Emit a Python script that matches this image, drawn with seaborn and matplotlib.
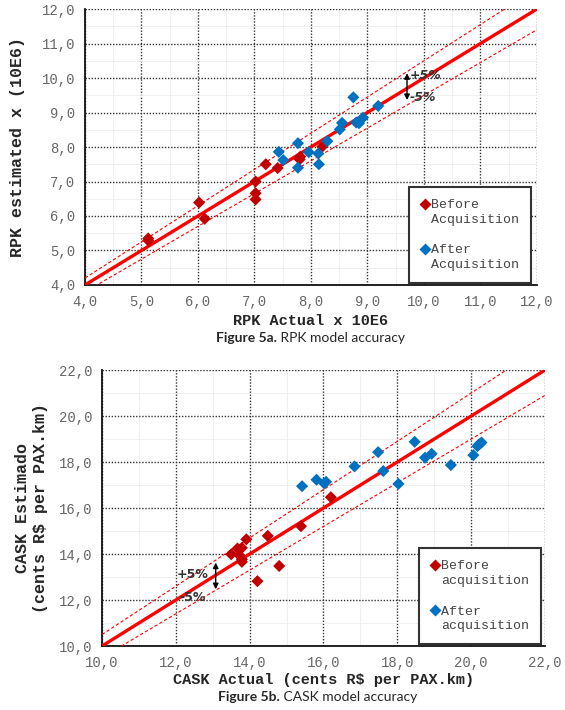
import numpy as np
import pandas as pd
import matplotlib
matplotlib.use("Agg")
import matplotlib.pyplot as plt
import seaborn as sns
from matplotlib.ticker import MultipleLocator, FuncFormatter

# Figure 5a - RPK (x 10E6)
rpk_before_actual = [5.12, 5.12, 6.02, 6.12, 7.02, 7.02, 7.02, 7.20, 7.41, 7.80, 7.81, 8.20]
rpk_before_est = [5.35, 5.29, 6.39, 5.92, 7.00, 6.66, 6.48, 7.50, 7.39, 7.64, 7.72, 8.01]
rpk_after_actual = [7.43, 7.51, 7.77, 7.77, 7.96, 8.13, 8.14, 8.29, 8.51, 8.55, 8.75, 8.80, 8.85, 8.92, 9.19]
rpk_after_est = [7.86, 7.62, 8.11, 7.40, 7.85, 7.81, 7.50, 8.17, 8.51, 8.70, 9.44, 8.71, 8.69, 8.85, 9.19]

# Figure 5b - CASK (cents R$ per PAX.km)
cask_before_actual = [13.50, 13.67, 13.79, 13.72, 13.79, 13.79, 13.91, 14.21, 14.49, 14.80, 15.39, 16.20]
cask_before_est = [13.99, 14.24, 14.27, 13.95, 13.66, 13.77, 14.64, 12.82, 14.79, 13.48, 15.21, 16.47]
cask_after_actual = [15.42, 15.81, 16.02, 16.07, 16.84, 17.48, 17.62, 18.03, 18.47, 18.75, 18.93, 19.45,
                     20.06, 20.17, 20.22, 20.28]
cask_after_est = [16.95, 17.23, 17.07, 17.14, 17.81, 18.43, 17.61, 17.05, 18.88, 18.19, 18.36, 17.87,
                  18.30, 18.69, 18.78, 18.85]

RED_PT = "#C00000"
BLUE_PT = "#0070C0"
LINE_RED = "#FF0000"
MONO = "Liberation Mono"

sns.set_style("white")
plt.rcParams["font.family"] = ["DejaVu Sans"]


def comma(v, pos):
    return f"{v:.1f}".replace(".", ",")


def make_df(bx, by, ax_, ay, labels):
    return pd.DataFrame({
        "actual": bx + ax_,
        "est": by + ay,
        "group": [labels[0]] * len(bx) + [labels[1]] * len(ax_),
    })


def draw(ax, df, lo, hi, major, labels, legend_anchor):
    ref = np.array([lo, hi])
    ax.plot(ref, ref, color=LINE_RED, lw=2.4, zorder=3)
    ax.plot(ref, ref * 1.05, color=LINE_RED, lw=0.8, ls=(0, (3, 2)), zorder=3)
    ax.plot(ref, ref * 0.95, color=LINE_RED, lw=0.8, ls=(0, (3, 2)), zorder=3)
    sns.scatterplot(data=df, x="actual", y="est", hue="group", marker="D", s=38,
                    palette={labels[0]: RED_PT, labels[1]: BLUE_PT},
                    edgecolor="none", ax=ax, zorder=4)
    ax.set_xlim(lo, hi)
    ax.set_ylim(lo, hi)
    for axis in (ax.xaxis, ax.yaxis):
        axis.set_major_locator(MultipleLocator(major))
        axis.set_minor_locator(MultipleLocator(major / 2))
        axis.set_major_formatter(FuncFormatter(comma))
    ax.grid(which="major", color="#333333", ls=(0, (1, 1.2)), lw=1.0)
    ax.grid(which="minor", color="#ececec", ls="-", lw=0.6)
    ax.set_axisbelow(True)
    ax.tick_params(which="major", direction="inout", length=7, width=1, colors="#222222",
                   labelcolor="#666666", labelsize=10)
    ax.tick_params(which="minor", direction="inout", length=4, width=0.8, colors="#222222")
    for lab in ax.get_xticklabels() + ax.get_yticklabels():
        lab.set_family(MONO)
    for s in ("left", "bottom"):
        ax.spines[s].set_color("#111111")
        ax.spines[s].set_linewidth(1.3)
    for s in ("top", "right"):
        ax.spines[s].set_visible(False)
    handles, _ = ax.get_legend_handles_labels()
    leg = ax.legend(handles=handles[-2:], labels=[l.replace(" ", "\n") for l in labels],
                    loc="lower right", bbox_to_anchor=legend_anchor, borderaxespad=0,
                    frameon=True, fancybox=False, edgecolor="#333333", framealpha=1,
                    prop={"family": MONO, "size": 9.5}, labelspacing=1.4,
                    handlelength=0.6, handletextpad=0.2, borderpad=0.9)
    leg.get_frame().set_linewidth(1.5)
    for t in leg.get_texts():
        t.set_color("#444444")
        t.set_linespacing(1.3)
    # put the diamond next to the first line of each label
    for col in leg._legend_handle_box.get_children():
        for row in col.get_children():
            row.align = "top"


fig = plt.figure(figsize=(5.65, 7.10), dpi=100)

ax1 = fig.add_axes([0.1504, 0.5986, 0.800, 0.3887])
labels1 = ["Before Acquisition", "After Acquisition"]
df1 = make_df(rpk_before_actual, rpk_before_est, rpk_after_actual, rpk_after_est, labels1)
draw(ax1, df1, 4.0, 12.0, 1.0, labels1, (0.987, 0.007))
ax1.set_xlabel("RPK Actual x 10E6", family=MONO, weight="bold", fontsize=11, labelpad=4)
ax1.set_ylabel("RPK estimated x (10E6)", family=MONO, weight="bold", fontsize=12, labelpad=12)
ax1.annotate("", xy=(9.7, 10.22), xytext=(9.7, 9.28),
             arrowprops=dict(arrowstyle="<|-|>", color="black", lw=1, mutation_scale=8))
ax1.text(9.75, 10.07, "+5%", fontsize=9, weight="bold", style="italic", color="#333333",
         va="center", ha="left")
ax1.text(9.75, 9.44, "-5%", fontsize=9, weight="bold", style="italic", color="#333333",
         va="center", ha="left")

ax2 = fig.add_axes([0.1805, 0.0901, 0.7841, 0.3887])
labels2 = ["Before acquisition", "After acquisition"]
df2 = make_df(cask_before_actual, cask_before_est, cask_after_actual, cask_after_est, labels2)
draw(ax2, df2, 10.0, 22.0, 2.0, labels2, (0.991, 0.007))
ax2.set_xlabel("CASK Actual (cents R$ per PAX.km)", family=MONO, weight="bold", fontsize=11,
               labelpad=2)
ax2.set_ylabel("CASK Estimado\n(cents R$ per PAX.km)", family=MONO, weight="bold", fontsize=12,
               labelpad=8)
ax2.annotate("", xy=(13.08, 13.75), xytext=(13.08, 12.35),
             arrowprops=dict(arrowstyle="<|-|>", color="black", lw=1, mutation_scale=8))
ax2.text(12.44, 13.1, "+5%", fontsize=9, weight="bold", color="#333333", va="center", ha="center")
ax2.text(12.44, 12.13, "-5%", fontsize=9, weight="bold", color="#333333", va="center", ha="center")

fig.text(0.49, 1 - 338 / 710, "Figure 5a.", family="Lato", weight="bold", fontsize=10,
         ha="right", va="center")
fig.text(0.49, 1 - 338 / 710, " RPK model accuracy", family="Lato", fontsize=10,
         ha="left", va="center")
fig.text(0.495, 1 - 697 / 710, "Figure 5b.", family="Lato", weight="bold", fontsize=10,
         ha="right", va="center")
fig.text(0.495, 1 - 697 / 710, " CASK model accuracy", family="Lato", fontsize=10,
         ha="left", va="center")

fig.savefig("out.png", dpi=100)
